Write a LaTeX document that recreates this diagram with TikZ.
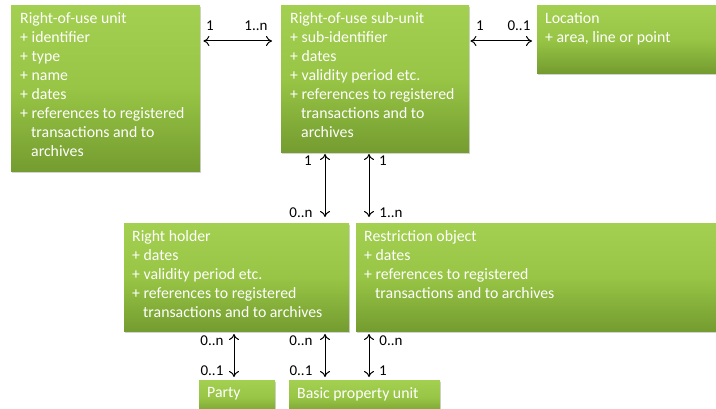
\documentclass[tikz,border=0pt]{standalone}
\usepackage{fontspec}
\setmainfont{Carlito}
\usetikzlibrary{arrows.meta,shadows,calc}
\definecolor{gtop}{HTML}{A4D052}
\definecolor{gmid}{HTML}{98C545}
\definecolor{gbot}{HTML}{749C30}
\tikzset{
  box/.style={rectangle, anchor=north west, inner sep=0pt, top color=gtop, bottom color=gbot, middle color=gmid,
    drop shadow={opacity=0.35, shadow xshift=1pt, shadow yshift=-1.5pt}},
  btext/.style={anchor=north west, inner sep=0pt, align=left, text=white, font=\fontsize{15.8}{19}\selectfont},
  lbl/.style={inner sep=0pt, font=\fontsize{15}{16}\selectfont, text=black},
  conn/.style={{To[length=6pt,width=10pt]}-{To[length=6pt,width=10pt]}, line width=1pt, black}
}
\newcommand{\ind}{\hspace*{11pt}}
\begin{document}
\begin{tikzpicture}[x=1pt,y=-1pt]
\useasboundingbox (0,0) rectangle (716,409);
% boxes
\node[box, minimum width=189pt, minimum height=166pt] (b1) at (11,5) {};
\node[box, minimum width=188pt, minimum height=147pt] (b2) at (281,5) {};
\node[box, minimum width=185pt, minimum height=68pt] (loc) at (537,5) {};
\node[box, minimum width=225pt, minimum height=108pt] (rh) at (124,223) {};
\node[box, minimum width=365pt, minimum height=108pt] (ro) at (356,223) {};
\node[box, minimum width=76pt, minimum height=35pt] (party) at (199,380) {};
\node[box, minimum width=151pt, minimum height=35pt] (bpu) at (289,380) {};
% texts
\node[btext] (t1) at (20,12) {Right-of-use unit\\+ identifier\\+ type\\+ name\\+ dates\\+ references to registered\\\ind transactions and to\\\ind archives};
\node[btext] (t2) at (290,12) {Right-of-use sub-unit\\+ sub-identifier\\+ dates\\+ validity period etc.\\+ references to registered\\\ind transactions and to\\\ind archives};
\node[btext] (t3) at (545,12) {Location\\+ area, line or point};
\node[btext] (t4) at (132,230) {Right holder\\+ dates\\+ validity period etc.\\+ references to registered\\\ind transactions and to archives};
\node[btext] (t5) at (364,230) {Restriction object\\+ dates\\+ references to registered\\\ind transactions and to archives};
\node[btext] (t6) at (207,387) {Party};
\node[btext] (t7) at (297,387) {Basic property unit};
% connectors
\coordinate (a1s) at ($(b1.north east)+(3,36)$);
\coordinate (a1e) at ($(b2.north west)+(-9,36)$);
\draw[conn] (a1s) -- (a1e);
\coordinate (a2s) at ($(b2.north east)+(1,36)$);
\coordinate (a2e) at ($(loc.north west)+(-5,36)$);
\draw[conn] (a2s) -- (a2e);
\coordinate (v1s) at (325,154);
\coordinate (v1e) at (325,217);
\draw[conn] (v1s) -- (v1e);
\coordinate (v2s) at (369,154);
\coordinate (v2e) at (369,217);
\draw[conn] (v2s) -- (v2e);
\coordinate (v3s) at (234,334);
\coordinate (v3e) at (234,377);
\draw[conn] (v3s) -- (v3e);
\coordinate (v4s) at (325,334);
\coordinate (v4e) at (325,377);
\draw[conn] (v4s) -- (v4e);
\coordinate (v5s) at (369,334);
\coordinate (v5e) at (369,377);
\draw[conn] (v5s) -- (v5e);
% labels
\node[lbl] (l1) at (210,26) {1};
\node[lbl] (l2) at (256,26) {1..n};
\node[lbl] (l3) at (480,26) {1};
\node[lbl] (l4) at (519,26) {0..1};
\node[lbl] (l5) at (308,161) {1};
\node[lbl] (l6) at (301,213) {0..n};
\node[lbl] (l7) at (383,161) {1};
\node[lbl] (l8) at (391,213) {1..n};
\node[lbl] (l9) at (212,341) {0..n};
\node[lbl] (l10) at (212,371) {0..1};
\node[lbl] (l11) at (301,341) {0..n};
\node[lbl] (l12) at (301,371) {0..1};
\node[lbl] (l13) at (391,341) {0..n};
\node[lbl] (l14) at (383,371) {1};
\end{tikzpicture}
\end{document}
